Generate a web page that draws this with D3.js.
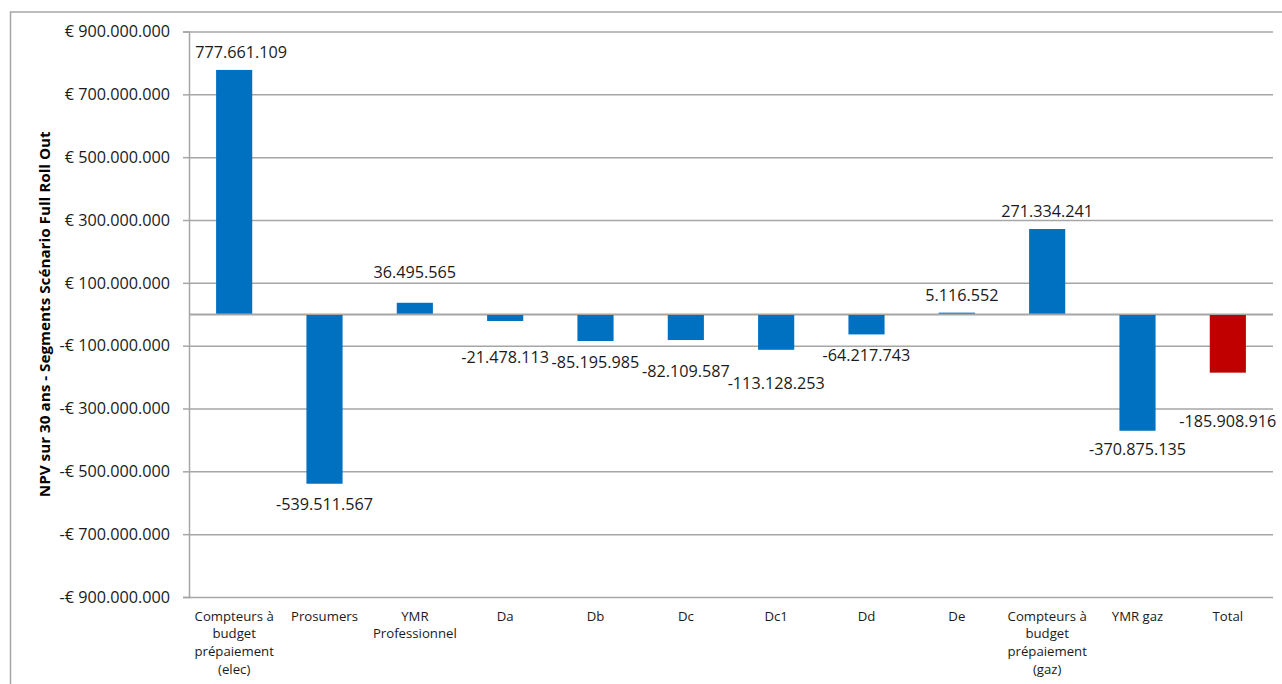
<!DOCTYPE html>
<html>
<head>
<meta charset="utf-8">
<script src="https://cdn.jsdelivr.net/npm/d3@7"></script>
<style>
  html, body { margin: 0; padding: 0; background: #fff; }
  svg { display: block; font-family: "Open Sans", sans-serif; }
</style>
</head>
<body>
<svg id="chart" width="1282" height="684"></svg>
<script>
// Segments (line breaks mark how the axis label wraps)
const categories = [
  "Compteurs à\nbudget\nprépaiement\n(elec)",
  "Prosumers",
  "YMR\nProfessionnel",
  "Da",
  "Db",
  "Dc",
  "Dc1",
  "Dd",
  "De",
  "Compteurs à\nbudget\nprépaiement\n(gaz)",
  "YMR gaz",
  "Total"
];

// NPV over 30 years, in euros
const npvValues = [
  777661109,
  -539511567,
  36495565,
  -21478113,
  -85195985,
  -82109587,
  -113128253,
  -64217743,
  5116552,
  271334241,
  -370875135,
  -185908916
];

// Which bar is the total
const isTotal = [false, false, false, false, false, false, false, false, false, false, false, true];

// Value axis ticks
const yTicks = [900e6, 700e6, 500e6, 300e6, 100e6, -100e6, -300e6, -500e6, -700e6, -900e6];
const yDomain = [-900e6, 900e6];

const axisTitle = "NPV sur 30 ans - Segments Scénario Full Roll Out";

// ---- layout ----
const plot = { left: 189, right: 1273, top: 31.5, bottom: 597 };
const colors = { bar: "#0070C0", total: "#C00000", grid: "#a6a6a6", text: "#1a1a1a" };

// Distance (px) between bar end and the centre of its value label, and sideways nudge
const labelGap = [17.5, 20, 31, 36, 21, 31, 33, 21, 17, 18, 18, 49];
const labelShift = [7, 0, 0, 0, 0, 0, 0, 0, 5, 0, 0, 0];

const fr = d3.formatLocale({ decimal: ",", thousands: ".", grouping: [3], currency: ["€ ", ""], minus: "-" });
const fmtValue = fr.format(",.0f");
const fmtTick = fr.format("$,.0f");

const svg = d3.select("#chart");

// Chart frame
svg.append("rect")
  .attr("x", 10.5).attr("y", 12)
  .attr("width", 1300).attr("height", 700)
  .attr("fill", "#fff")
  .attr("stroke", "#a6a6a6").attr("stroke-width", 1.5);

const x = d3.scaleBand()
  .domain(d3.range(categories.length))
  .range([plot.left, plot.right])
  .paddingInner(0.6)
  .paddingOuter(0.3);

const y = d3.scaleLinear().domain(yDomain).range([plot.bottom, plot.top]);

// Left axis with ticks and euro labels
const yAxis = d3.axisLeft(y)
  .tickValues(yTicks)
  .tickSize(6)
  .tickPadding(13)
  .tickFormat(fmtTick);

const gy = svg.append("g")
  .attr("transform", `translate(${plot.left},0)`)
  .call(yAxis);
gy.select(".domain").attr("stroke", colors.grid).attr("stroke-width", 1.5);
gy.selectAll(".tick line").attr("stroke", colors.grid).attr("stroke-width", 1.5);
gy.selectAll(".tick text")
  .attr("fill", colors.text)
  .style("font-size", "16.2px")
  .style("font-family", "'Open Sans', sans-serif");

// Horizontal gridlines
const grid = svg.append("g")
  .attr("transform", `translate(${plot.left},0)`)
  .call(d3.axisLeft(y).tickValues(yTicks.concat([0])).tickSize(-(plot.right - plot.left)).tickFormat(""));
grid.select(".domain").remove();
grid.selectAll(".tick line").attr("stroke", colors.grid).attr("stroke-width", 1.5);

// Bars
svg.append("g").selectAll("rect")
  .data(npvValues)
  .join("rect")
  .attr("x", (d, i) => x(i))
  .attr("width", x.bandwidth())
  .attr("y", d => y(Math.max(0, d)))
  .attr("height", d => Math.abs(y(d) - y(0)))
  .attr("fill", (d, i) => isTotal[i] ? colors.total : colors.bar);

// Category axis line redrawn over bars
svg.append("line")
  .attr("x1", plot.left).attr("x2", plot.right)
  .attr("y1", y(0)).attr("y2", y(0))
  .attr("stroke", colors.grid).attr("stroke-width", 1.5);

// Value labels
svg.append("g").selectAll("text")
  .data(npvValues)
  .join("text")
  .attr("x", (d, i) => x(i) + x.bandwidth() / 2 + labelShift[i])
  .attr("y", (d, i) => d >= 0 ? y(d) - labelGap[i] : y(d) + labelGap[i])
  .attr("dy", "0.36em")
  .attr("text-anchor", "middle")
  .attr("fill", colors.text)
  .style("font-size", "16.2px")
  .text(d => fmtValue(d));

// Category labels (wrapped)
const catG = svg.append("g").selectAll("text")
  .data(categories)
  .join("text")
  .attr("text-anchor", "middle")
  .attr("fill", colors.text)
  .style("font-size", "13.2px")
  .attr("transform", (d, i) => `translate(${x(i) + x.bandwidth() / 2},${616})`);
catG.each(function (d) {
  d3.select(this).selectAll("tspan")
    .data(d.split("\n"))
    .join("tspan")
    .attr("x", 0)
    .attr("y", (t, k) => k * 17.7)
    .attr("dy", "0.36em")
    .text(t => t);
});

// Axis title (condensed bold)
svg.append("text")
  .attr("transform", `translate(45,${(plot.top + plot.bottom) / 2}) rotate(-90)`)
  .attr("text-anchor", "middle")
  .attr("dy", "0.36em")
  .attr("fill", "#000")
  .attr("textLength", 366)
  .attr("lengthAdjust", "spacingAndGlyphs")
  .style("font-weight", "bold")
  .style("font-size", "14px")
  .text(axisTitle);
</script>
</body>
</html>
